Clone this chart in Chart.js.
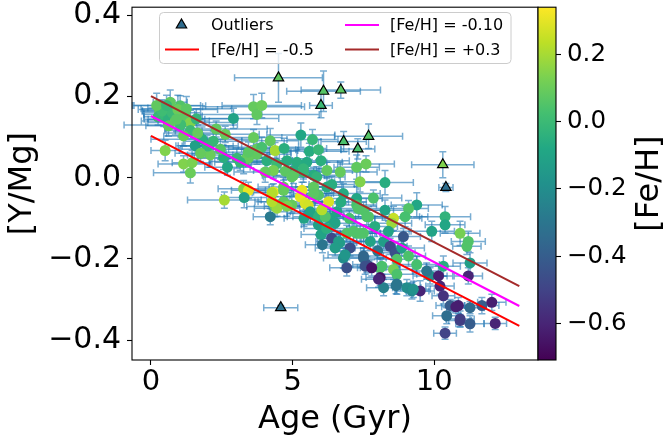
<!DOCTYPE html>
<html>
<head>
<meta charset="utf-8">
<script src="https://cdn.jsdelivr.net/npm/chart.js@4.4.0/dist/chart.umd.min.js"></script>
<style>
  html, body { margin: 0; padding: 0; background: #fff; }
</style>
</head>
<body>
<canvas id="chart" width="666" height="445"></canvas>
<script>
// stars: age (Gyr), [Y/Mg], [Fe/H], errors
const ages = [
  0.68, 1.03, 0.39, 0.45, 0.56, 0.86, 1.21, 1.39, 1.39, 1.15, 1.80, 1.56, 1.98, 2.09, 0.50, 1.15, 1.45, 1.39, 0.30, 0.75, 0.95, 0.25, 0.62, 1.05, 1.65,
  2.91, 2.62, 3.62, 3.74, 3.62, 2.56, 2.70, 3.03, 3.44, 3.27, 3.74, 3.27, 3.44, 3.29, 2.59, 3.91,
  4.21, 3.91, 4.38, 4.70, 4.09, 4.44, 4.80, 5.29, 5.70, 5.59, 5.91, 6.00, 5.15, 5.50, 5.03, 5.38, 4.74, 4.97, 4.32, 4.03,
  5.74, 6.68, 7.26, 7.59, 7.38, 4.32, 4.68, 5.33, 5.27, 5.44, 5.74, 6.21, 6.38, 6.79, 7.26, 6.27, 4.38, 4.97,
  4.21, 4.68, 5.55, 5.62, 5.91, 5.97, 6.32, 6.56, 5.91, 6.50, 6.38, 6.62, 6.91, 7.26, 7.50, 7.03, 6.79, 6.91, 7.50, 7.62,
  8.09, 8.09, 8.21, 8.56, 8.68, 8.68, 9.03, 9.21, 9.50, 9.38, 9.85, 10.15, 10.20, 10.32, 10.56, 10.85, 11.26, 11.68, 12.03, 12.15,
  10.44, 10.91, 11.26, 10.38, 11.20, 11.26, 10.91, 11.20, 11.15, 10.38, 10.38, 9.91, 9.38, 9.09, 8.97, 8.56, 8.50, 8.26, 8.26, 7.50,
  7.26, 7.68, 8.91, 8.38, 8.21, 8.44, 8.62, 8.85, 9.09, 8.68, 8.15, 9.73, 10.32, 8.65, 9.26, 10.76, 10.91,
  4.45, 5.62, 5.91, 6.15, 6.66, 6.50, 6.85, 7.50, 7.56, 7.79, 8.03, 7.15, 7.38, 7.74, 7.32, 7.62,
  0.39, 0.90, 2.00, 3.74, 3.39, 3.44, 3.15, 5.38, 5.03, 4.27, 4.68, 4.27, 4.80, 5.74, 5.85, 6.21, 6.03,
  0.20, 0.55, 1.25, 1.60, 2.30, 2.20, 1.75, 2.45, 6.00, 6.20, 7.00, 7.90, 8.00, 6.70, 7.85, 5.40, 6.05
];
const ratios = [
  0.186, 0.177, 0.172, 0.156, 0.144, 0.140, 0.152, 0.136, 0.116, 0.103, 0.095, 0.079, 0.079, 0.056, 0.067, 0.034, 0.037, 0.012, 0.165, 0.160, 0.168, 0.150, 0.128, 0.130, 0.110,
  0.146, 0.107, 0.175, 0.156, 0.099, 0.050, 0.026, 0.048, 0.048, 0.040, 0.071, -0.027, -0.031, -0.049, -0.055, 0.178,
  0.091, 0.075, 0.067, 0.072, 0.042, 0.034, 0.042, 0.105, 0.094, 0.065, 0.069, 0.042, 0.038, 0.038, 0.018, 0.014, 0.016, 0.002, 0.018, 0.014,
  0.006, 0.014, 0.026, 0.034, -0.010, -0.035, -0.031, -0.031, -0.047, -0.063, -0.023, -0.023, -0.017, -0.039, -0.051, -0.059, -0.071, -0.067,
  -0.096, -0.059, -0.068, -0.088, -0.043, -0.088, -0.100, -0.084, -0.116, -0.112, -0.149, -0.157, -0.137, -0.137, -0.137, -0.173, -0.198, -0.222, -0.198, -0.214,
  -0.222, -0.246, -0.271, -0.226, -0.238, -0.262, -0.271, -0.279, -0.279, -0.214, -0.242, -0.242, -0.267, -0.291, -0.315, -0.315, -0.320, -0.315, -0.307, -0.359,
  -0.340, -0.352, -0.360, -0.383, -0.242, -0.210, -0.137, -0.157, -0.169, -0.096, -0.116, -0.132, -0.067, -0.076, -0.096, -0.100, -0.112, -0.080, -0.012, -0.080,
  -0.067, -0.096, -0.145, -0.132, -0.157, -0.169, -0.185, -0.173, -0.193, -0.201, -0.218, -0.230, -0.218, -0.266, -0.275, -0.318, -0.348,
  -0.075, -0.084, -0.096, -0.096, -0.160, -0.173, -0.190, -0.193, -0.218, -0.222, -0.250, -0.132, -0.137, -0.157, -0.076, -0.096,
  0.164, 0.144, 0.078, 0.058, 0.050, 0.063, 0.038, 0.022, 0.006, -0.037, -0.023, -0.059, -0.070, -0.039, 0.002, 0.018, -0.079,
  0.178, 0.178, 0.170, 0.145, 0.120, 0.090, 0.060, 0.070, -0.140, -0.125, -0.100, -0.120, -0.180, -0.060, -0.050, -0.100, -0.165
];
const fehs = [
  0.08, 0.05, -0.02, -0.04, -0.04, 0.09, 0.07, 0.14, 0.00, 0.09, -0.05, -0.12, -0.03, 0.10, 0.14, 0.14, 0.13, 0.10, 0.07, 0.00, 0.10, -0.01, 0.08, 0.01, 0.09,
  -0.10, 0.09, 0.09, 0.08, 0.09, -0.05, -0.09, -0.01, 0.08, 0.07, 0.09, 0.14, 0.30, -0.12, 0.20, 0.10,
  0.08, 0.03, 0.20, -0.05, -0.05, 0.00, -0.06, -0.09, -0.01, -0.06, -0.01, -0.05, -0.06, -0.07, -0.06, -0.01, 0.07, 0.08, 0.12, 0.09,
  -0.06, 0.09, 0.08, 0.10, 0.14, 0.30, 0.09, 0.30, 0.30, 0.28, 0.08, -0.07, -0.06, -0.07, -0.09, 0.28, 0.10, 0.09,
  -0.28, 0.08, 0.27, -0.06, 0.05, 0.05, -0.10, -0.10, -0.12, -0.10, -0.48, -0.13, 0.05, 0.03, 0.05, -0.45, -0.20, -0.45, -0.35, -0.42,
  0.05, -0.66, -0.25, 0.12, 0.04, -0.30, -0.20, -0.22, -0.60, 0.03, -0.20, -0.62, -0.60, -0.55, -0.40, -0.62, -0.35, -0.40, -0.62, -0.60,
  -0.33, -0.50, -0.40, -0.50, -0.60, -0.12, 0.12, 0.05, 0.05, -0.03, -0.09, -0.10, -0.09, 0.05, 0.03, 0.25, 0.18, -0.10, -0.06, 0.05,
  0.03, 0.05, -0.42, -0.10, -0.13, -0.48, -0.45, -0.12, 0.04, 0.05, 0.04, -0.30, -0.06, -0.30, -0.18, -0.62, -0.52,
  0.18, -0.10, -0.04, 0.05, -0.13, -0.13, -0.16, -0.36, -0.45, -0.66, -0.60, 0.05, 0.05, -0.10, 0.05, 0.05,
  0.01, 0.07, -0.01, 0.08, 0.09, 0.07, -0.02, -0.02, 0.07, 0.22, 0.09, 0.22, 0.13, 0.07, -0.03, 0.08, 0.22,
  0.08, -0.01, 0.07, -0.02, 0.08, -0.01, 0.09, 0.06, -0.10, -0.05, 0.03, -0.06, -0.30, -0.06, 0.04, -0.10, -0.30
];
const ageErrs = [
  0.6, 0.9, 0.5, 0.7, 0.8, 1.2, 0.6, 1.5, 0.9, 0.7, 1.8, 0.6, 1.1, 0.8, 0.5, 0.9, 0.7, 1.3, 0.6, 1.0, 1.4, 0.5, 0.8, 2.0, 1.1,
  1.6, 1.2, 1.8, 2.2, 1.0, 0.9, 0.8, 1.5, 0.7, 1.2, 1.0, 0.9, 0.6, 0.8, 1.3, 1.4,
  1.0, 1.3, 0.8, 1.5, 0.9, 1.1, 0.7, 1.2, 0.9, 1.4, 0.8, 1.0, 1.6, 0.7, 0.9, 1.2, 0.8, 1.0, 0.7, 1.1,
  0.9, 1.3, 0.8, 1.0, 0.9, 0.7, 1.2, 0.8, 0.9, 0.6, 1.0, 1.1, 0.8, 1.3, 0.9, 0.7, 1.0, 0.8,
  0.6, 0.9, 0.7, 0.8, 1.0, 0.7, 0.9, 0.8, 0.6, 0.7, 0.5, 0.8, 0.9, 0.7, 0.6, 0.5, 0.7, 0.6, 0.8, 0.5,
  0.7, 0.5, 0.6, 0.8, 0.7, 0.6, 0.5, 0.6, 0.5, 0.8, 0.6, 0.5, 0.5, 0.4, 0.5, 0.4, 0.5, 0.6, 0.5, 0.4,
  0.5, 0.4, 0.5, 0.4, 0.5, 0.6, 0.7, 0.6, 0.5, 0.9, 0.7, 0.8, 0.9, 0.7, 0.8, 1.0, 0.7, 0.9, 1.0, 0.8,
  0.7, 0.9, 0.6, 0.8, 0.7, 0.6, 0.7, 0.8, 0.6, 0.7, 0.6, 0.5, 0.6, 0.5, 0.6, 0.5, 0.5,
  0.8, 0.7, 0.9, 0.8, 0.6, 0.7, 0.6, 0.7, 0.6, 0.5, 0.6, 0.8, 0.7, 0.6, 0.9, 0.8,
  0.7, 1.0, 0.9, 1.2, 0.8, 1.5, 0.9, 0.8, 1.1, 0.7, 0.9, 0.6, 0.8, 0.7, 1.0, 0.9, 0.6,
  0.8, 1.2, 1.6, 1.3, 1.8, 1.0, 0.9, 1.4, 0.7, 0.8, 0.9, 0.8, 0.6, 0.9, 1.0, 0.7, 0.6
];
const ratioErrs = [
  0.030, 0.025, 0.020, 0.030, 0.020, 0.035, 0.025, 0.030, 0.020, 0.025, 0.030, 0.020, 0.025, 0.030, 0.025, 0.020, 0.030, 0.025, 0.020, 0.030, 0.035, 0.020, 0.025, 0.030, 0.020,
  0.025, 0.020, 0.030, 0.025, 0.020, 0.030, 0.020, 0.025, 0.020, 0.030, 0.025, 0.020, 0.020, 0.025, 0.020, 0.030,
  0.030, 0.025, 0.020, 0.025, 0.020, 0.030, 0.025, 0.030, 0.025, 0.020, 0.025, 0.020, 0.030, 0.025, 0.020, 0.025, 0.020, 0.030, 0.020, 0.025,
  0.020, 0.025, 0.030, 0.020, 0.025, 0.020, 0.025, 0.020, 0.025, 0.020, 0.030, 0.025, 0.020, 0.025, 0.030, 0.020, 0.025, 0.020,
  0.020, 0.025, 0.020, 0.025, 0.020, 0.030, 0.025, 0.020, 0.025, 0.020, 0.020, 0.025, 0.020, 0.025, 0.020, 0.020, 0.025, 0.020, 0.025, 0.020,
  0.025, 0.020, 0.020, 0.025, 0.020, 0.025, 0.020, 0.020, 0.025, 0.020, 0.020, 0.025, 0.020, 0.020, 0.015, 0.020, 0.015, 0.020, 0.020, 0.015,
  0.020, 0.015, 0.020, 0.015, 0.020, 0.025, 0.030, 0.025, 0.020, 0.025, 0.020, 0.025, 0.030, 0.020, 0.025, 0.030, 0.020, 0.025, 0.030, 0.020,
  0.020, 0.025, 0.020, 0.025, 0.020, 0.020, 0.025, 0.020, 0.025, 0.020, 0.020, 0.020, 0.025, 0.020, 0.020, 0.015, 0.020,
  0.020, 0.025, 0.020, 0.025, 0.020, 0.020, 0.025, 0.020, 0.020, 0.020, 0.020, 0.025, 0.020, 0.020, 0.025, 0.020,
  0.025, 0.030, 0.020, 0.025, 0.020, 0.025, 0.020, 0.025, 0.020, 0.020, 0.025, 0.020, 0.025, 0.020, 0.025, 0.020, 0.020,
  0.030, 0.025, 0.030, 0.025, 0.020, 0.025, 0.020, 0.025, 0.020, 0.025, 0.020, 0.025, 0.020, 0.025, 0.020, 0.020, 0.020
];

// outliers
const outAges = [4.50, 6.09, 6.70, 6.00, 7.68, 6.80, 7.30, 10.30, 10.41, 4.58];
const outRatios = [0.246, 0.213, 0.216, 0.178, 0.102, 0.089, 0.071, 0.032, -0.024, -0.320];
const outFehs = [0.08, 0.06, 0.07, 0.00, 0.06, 0.04, 0.04, 0.14, -0.33, -0.32];
const outAgeErrs = [1.55, 1.30, 1.40, 0.40, 1.20, 0.80, 0.60, 1.10, 0.25, 0.60];
const outRatioErrs = [0.060, 0.050, 0.020, 0.030, 0.030, 0.025, 0.025, 0.032, 0.010, 0.005];

// model lines at fixed [Fe/H]
const lineAges = [0, 13];
const lineLow = [0.103, -0.365];   // [Fe/H] = -0.5
const lineMid = [0.152, -0.316];   // [Fe/H] = -0.10
const lineHigh = [0.201, -0.267];  // [Fe/H] = +0.3

const xTicks = [0, 5, 10];
const yTicks = [-0.4, -0.2, 0.0, 0.2, 0.4];
const cbTicks = [-0.6, -0.4, -0.2, 0.0, 0.2];
const fehMin = -0.708, fehMax = 0.34;

const viridisStops = ['#440154', '#482475', '#414487', '#355f8d', '#2a788e', '#21918c',
  '#22a884', '#44bf70', '#7ad151', '#bddf26', '#fde725'];

function hexToRgb(h) {
  return [parseInt(h.slice(1, 3), 16), parseInt(h.slice(3, 5), 16), parseInt(h.slice(5, 7), 16)];
}
function viridis(t) {
  t = Math.min(1, Math.max(0, t));
  const s = t * 10;
  const i = Math.min(9, Math.floor(s));
  const f = s - i;
  const a = hexToRgb(viridisStops[i]), b = hexToRgb(viridisStops[i + 1]);
  const c = a.map((v, k) => Math.round(v + (b[k] - v) * f));
  return `rgb(${c[0]},${c[1]},${c[2]})`;
}
function fehColor(v) {
  return viridis((v - fehMin) / (fehMax - fehMin));
}
function fmt(v) {
  const s = Math.abs(v).toFixed(1);
  return v < -1e-9 ? '\u2212' + s : s;
}

const starPoints = ages.map((a, i) => ({x: a, y: ratios[i]}));
const outPoints = outAges.map((a, i) => ({x: a, y: outRatios[i]}));

function drawErrors(chart, ds) {
  const {ctx, scales: {x, y}} = chart;
  const cap = 3.5;
  ctx.save();
  ctx.strokeStyle = 'rgba(31,119,180,0.6)';
  ctx.lineWidth = 1.5;
  ds.data.forEach((p, i) => {
    const xe = ds.xErr[i] || 0, ye = ds.yErr[i] || 0;
    const px = x.getPixelForValue(p.x), py = y.getPixelForValue(p.y);
    const x0 = x.getPixelForValue(p.x - xe), x1 = x.getPixelForValue(p.x + xe);
    const y0 = y.getPixelForValue(p.y - ye), y1 = y.getPixelForValue(p.y + ye);
    ctx.beginPath();
    ctx.moveTo(x0, py); ctx.lineTo(x1, py);
    ctx.moveTo(px, y0); ctx.lineTo(px, y1);
    ctx.moveTo(x0, py - cap); ctx.lineTo(x0, py + cap);
    ctx.moveTo(x1, py - cap); ctx.lineTo(x1, py + cap);
    ctx.moveTo(px - cap, y0); ctx.lineTo(px + cap, y0);
    ctx.moveTo(px - cap, y1); ctx.lineTo(px + cap, y1);
    ctx.stroke();
  });
  ctx.restore();
}

// error bars are drawn just before their own markers
const errorBars = {
  id: 'errorBars',
  beforeDatasetDraw(chart, args) {
    const ds = chart.data.datasets[args.index];
    if (ds.xErr) drawErrors(chart, ds);
  }
};

function triangle(ctx, cx, cy, r) {
  ctx.beginPath();
  ctx.moveTo(cx, cy - r);
  ctx.lineTo(cx + r * Math.sin(2 * Math.PI / 3), cy - r * Math.cos(2 * Math.PI / 3));
  ctx.lineTo(cx + r * Math.sin(4 * Math.PI / 3), cy - r * Math.cos(4 * Math.PI / 3));
  ctx.closePath();
}

const decorations = {
  id: 'decorations',
  afterDraw(chart) {
    const {ctx, chartArea: ca} = chart;
    const cb = chart.scales.cb;
    ctx.save();

    // frame
    ctx.strokeStyle = '#000';
    ctx.lineWidth = 1.1;
    ctx.strokeRect(ca.left, ca.top, ca.right - ca.left, ca.bottom - ca.top);

    // colorbar
    const cbW = 18;
    const grad = ctx.createLinearGradient(0, cb.bottom, 0, cb.top);
    for (let k = 0; k <= 20; k++) grad.addColorStop(k / 20, viridis(k / 20));
    ctx.fillStyle = grad;
    ctx.fillRect(cb.left, cb.top, cbW, cb.bottom - cb.top);
    ctx.strokeRect(cb.left, cb.top, cbW, cb.bottom - cb.top);

    ctx.fillStyle = '#000';
    ctx.font = '32px "DejaVu Sans"';
    ctx.textAlign = 'center';
    ctx.textBaseline = 'middle';
    ctx.translate(650, (cb.top + cb.bottom) / 2);
    ctx.rotate(-Math.PI / 2);
    ctx.fillText('[Fe/H]', 0, 0);
    ctx.setTransform(1, 0, 0, 1, 0, 0);

    // legend
    const bx = 159.5, by = 12.5, bw = 351.5, bh = 51;
    ctx.beginPath();
    ctx.roundRect(bx, by, bw, bh, 4);
    ctx.fillStyle = 'rgba(255,255,255,0.8)';
    ctx.fill();
    ctx.strokeStyle = '#cccccc';
    ctx.lineWidth = 1;
    ctx.stroke();

    const ds = chart.data.datasets;
    const items = [
      {ds: ds[0], cx: 165, tx: 211, y: 25},
      {ds: ds[1], cx: 165, tx: 211, y: 49.5},
      {ds: ds[2], cx: 345, tx: 390, y: 25},
      {ds: ds[3], cx: 345, tx: 390, y: 49.5}
    ];
    ctx.font = '16px "DejaVu Sans"';
    ctx.textAlign = 'left';
    ctx.textBaseline = 'middle';
    items.forEach(it => {
      if (it.ds.legendMarker) {
        triangle(ctx, it.cx + 16.5, it.y, 6);
        ctx.fillStyle = it.ds.legendMarker;
        ctx.fill();
        ctx.strokeStyle = '#000';
        ctx.lineWidth = 1.2;
        ctx.stroke();
      } else {
        ctx.beginPath();
        ctx.moveTo(it.cx, it.y);
        ctx.lineTo(it.cx + 34, it.y);
        ctx.strokeStyle = it.ds.borderColor;
        ctx.lineWidth = 2;
        ctx.stroke();
      }
      ctx.fillStyle = '#000';
      ctx.fillText(it.ds.label, it.tx, it.y + 1);
    });
    ctx.restore();
  }
};

const titleFont = {family: 'DejaVu Sans', size: 32, lineHeight: 1};

function noPad(s) {
  s.paddingTop = 0; s.paddingBottom = 0; s.paddingLeft = 0; s.paddingRight = 0;
}

new Chart(document.getElementById('chart'), {
  type: 'scatter',
  data: {
    datasets: [
      {
        label: 'Outliers',
        data: outPoints,
        xErr: outAgeErrs,
        yErr: outRatioErrs,
        pointStyle: 'triangle',
        pointRadius: 6,
        pointBackgroundColor: outFehs.map(fehColor),
        pointBorderColor: '#000',
        pointBorderWidth: 1.2,
        legendMarker: '#2d6a8c',
        order: 0
      },
      {
        type: 'line',
        label: '[Fe/H] = -0.5',
        data: lineAges.map((a, i) => ({x: a, y: lineLow[i]})),
        borderColor: '#ff0000',
        borderWidth: 2,
        pointRadius: 0,
        order: 3
      },
      {
        type: 'line',
        label: '[Fe/H] = -0.10',
        data: lineAges.map((a, i) => ({x: a, y: lineMid[i]})),
        borderColor: '#ff00ff',
        borderWidth: 2,
        pointRadius: 0,
        order: 2
      },
      {
        type: 'line',
        label: '[Fe/H] = +0.3',
        data: lineAges.map((a, i) => ({x: a, y: lineHigh[i]})),
        borderColor: '#a52a2a',
        borderWidth: 2,
        pointRadius: 0,
        order: 1
      },
      {
        label: 'stars',
        data: starPoints,
        xErr: ageErrs,
        yErr: ratioErrs,
        pointRadius: 5.5,
        pointBorderWidth: 0,
        pointBackgroundColor: fehs.map(fehColor),
        order: 5
      }
    ]
  },
  options: {
    responsive: false,
    animation: false,
    layout: {padding: {top: 4, left: 0, right: 0, bottom: 0}},
    plugins: {
      legend: {display: false},
      tooltip: {enabled: false}
    },
    scales: {
      x: {
        type: 'linear',
        min: -0.67,
        max: 13.66,
        afterBuildTicks: s => { s.ticks = xTicks.map(v => ({value: v})); },
        afterFit: s => { s.height = 85; noPad(s); },
        grid: {drawOnChartArea: false, drawTicks: true, tickLength: 5, color: '#000', tickWidth: 1.1},
        border: {display: false},
        ticks: {font: {family: 'DejaVu Sans', size: 29}, color: '#000', padding: 0, maxRotation: 0, callback: v => String(v)},
        title: {display: true, text: 'Age (Gyr)', font: titleFont, color: '#000', padding: {top: 0, bottom: 9}}
      },
      y: {
        type: 'linear',
        position: 'left',
        min: -0.449,
        max: 0.42,
        afterBuildTicks: s => { s.ticks = yTicks.map(v => ({value: v})); },
        afterFit: s => { s.width = 132; noPad(s); },
        grid: {drawOnChartArea: false, drawTicks: true, tickLength: 5, color: '#000', tickWidth: 1.1},
        border: {display: false},
        ticks: {font: {family: 'DejaVu Sans', size: 30}, color: '#000', padding: 6, callback: v => fmt(v)},
        title: {display: true, text: '[Y/Mg]', font: titleFont, color: '#000', padding: {top: 6.5, bottom: 0}}
      },
      cb: {
        type: 'linear',
        position: 'right',
        min: fehMin,
        max: fehMax,
        afterBuildTicks: s => { s.ticks = cbTicks.map(v => ({value: v})); },
        afterFit: s => { s.width = 128; noPad(s); },
        grid: {drawOnChartArea: false, drawTicks: true, tickLength: 23, color: '#000', tickWidth: 1.1},
        border: {display: false},
        ticks: {font: {family: 'DejaVu Sans', size: 24.5}, color: '#000', padding: 6, callback: v => fmt(v)}
      }
    }
  },
  plugins: [errorBars, decorations]
});
</script>
</body>
</html>
